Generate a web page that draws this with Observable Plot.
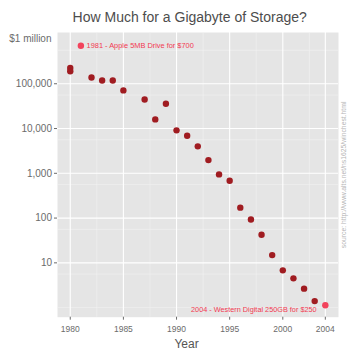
<!DOCTYPE html>
<html><head><meta charset="utf-8">
<script src="https://cdn.jsdelivr.net/npm/d3@7"></script>
<script src="https://cdn.jsdelivr.net/npm/@observablehq/plot@0.6"></script>
<style>
body{margin:0;background:#fff;font-family:"Liberation Sans",Arial,sans-serif;}
#title{box-sizing:border-box;height:32px;padding-top:9px;padding-left:19.4px;font-size:14px;line-height:16px;color:#4d4d4d;width:360px;text-align:center;}
</style></head><body>
<div id="title">How Much for a Gigabyte of Storage?</div>
<div id="chart"></div>
<script>
// price per gigabyte (US$) by year
const years  = [1980, 1980, 1982, 1983, 1984, 1985, 1987, 1988, 1989, 1990, 1991, 1992, 1993, 1994, 1995, 1996, 1997, 1998, 1999, 2000, 2001, 2002, 2003];
const prices = [225000, 190000, 138000, 118000, 118000, 71000, 44500, 16000, 35800, 9100, 6900, 4000, 1970, 944, 684, 171, 93, 42.5, 14.9, 6.8, 4.5, 2.65, 1.4];

// highlighted drives
const hlYears  = [1981, 2004];
const hlPrices = [705000, 1.13];
const hlLabels = ["1981 - Apple 5MB Drive for $700", "2004 - Western Digital 250GB for $250"];

// axes
const xTicks = [1980, 1985, 1990, 1995, 2000, 2004];
const xMinor = [1982.5, 1987.5, 1992.5, 1997.5, 2002.5];
const yTicks = [10, 100, 1000, 10000, 100000];
const yMinor = [1, 5.6, 56, 560, 5600, 56000, 560000];
const topLabel = "$1 million";
const topValue = 1e6;
const source = "source: http://www.alts.net/ns1625/winchest.html";

const data = years.map((year, i) => ({year, price: prices[i]}));
const hl = hlYears.map((year, i) => ({year, price: hlPrices[i], label: hlLabels[i]}));

const grey = "#6b6b6b";
const chart = Plot.plot({
  width: 360, height: 328,
  marginTop: 0, marginBottom: 43.3, marginLeft: 57, marginRight: 22,
  style: {fontFamily: "'Liberation Sans', Arial, sans-serif", background: "white", overflow: "visible"},
  x: {domain: [1978.8, 2005.24]},
  y: {type: "log", domain: [0.611, 1.396e6]},
  marks: [
    Plot.frame({fill: "#e5e5e5", stroke: "none"}),
    Plot.ruleY(yMinor, {stroke: "#f2f2f2", strokeWidth: 0.6}),
    Plot.ruleX(xMinor, {stroke: "#f2f2f2", strokeWidth: 0.6}),
    Plot.ruleY(yTicks, {stroke: "white", strokeWidth: 1.1}),
    Plot.ruleX(xTicks, {stroke: "white", strokeWidth: 1.1}),
    Plot.axisY(yTicks, {tickFormat: d3.format(","), tickSize: 3, tickPadding: 2.5, fontSize: 10, color: grey, label: null}),
    Plot.axisX(xTicks, {tickFormat: d => String(d), tickSize: 3, tickPadding: 5.5, fontSize: 8.5, color: grey, label: null}),
    Plot.text([topLabel], {text: d => d, y: [topValue], frameAnchor: "left", textAnchor: "end", dx: -6, fontSize: 10, fill: grey}),
    Plot.dot(data, {x: "year", y: "price", r: 3.2, fill: "#a01c21", stroke: "none"}),
    Plot.dot(hl, {x: "year", y: "price", r: 3.2, fill: "#f2435c", stroke: "none"}),
    Plot.text(hl.slice(0, 1), {x: "year", y: "price", text: "label", textAnchor: "start", dx: 5.7, fontSize: 7.4, fill: "#f23a52"}),
    Plot.text(hl.slice(1), {x: "year", y: "price", text: "label", textAnchor: "end", dx: -8.7, dy: 4, fontSize: 7.3, fill: "#f23a52"}),
    Plot.text(["Year"], {text: d => d, frameAnchor: "bottom", lineAnchor: "bottom", dy: 30.6, dx: -11.5, fontSize: 12, fill: "#555"}),
    Plot.text([source], {text: d => d, frameAnchor: "right", textAnchor: "middle", rotate: -90, dx: 5, fontSize: 6.8, fill: "#b5b5b5"})
  ]
});
document.getElementById("chart").appendChild(chart);
</script>
</body></html>
